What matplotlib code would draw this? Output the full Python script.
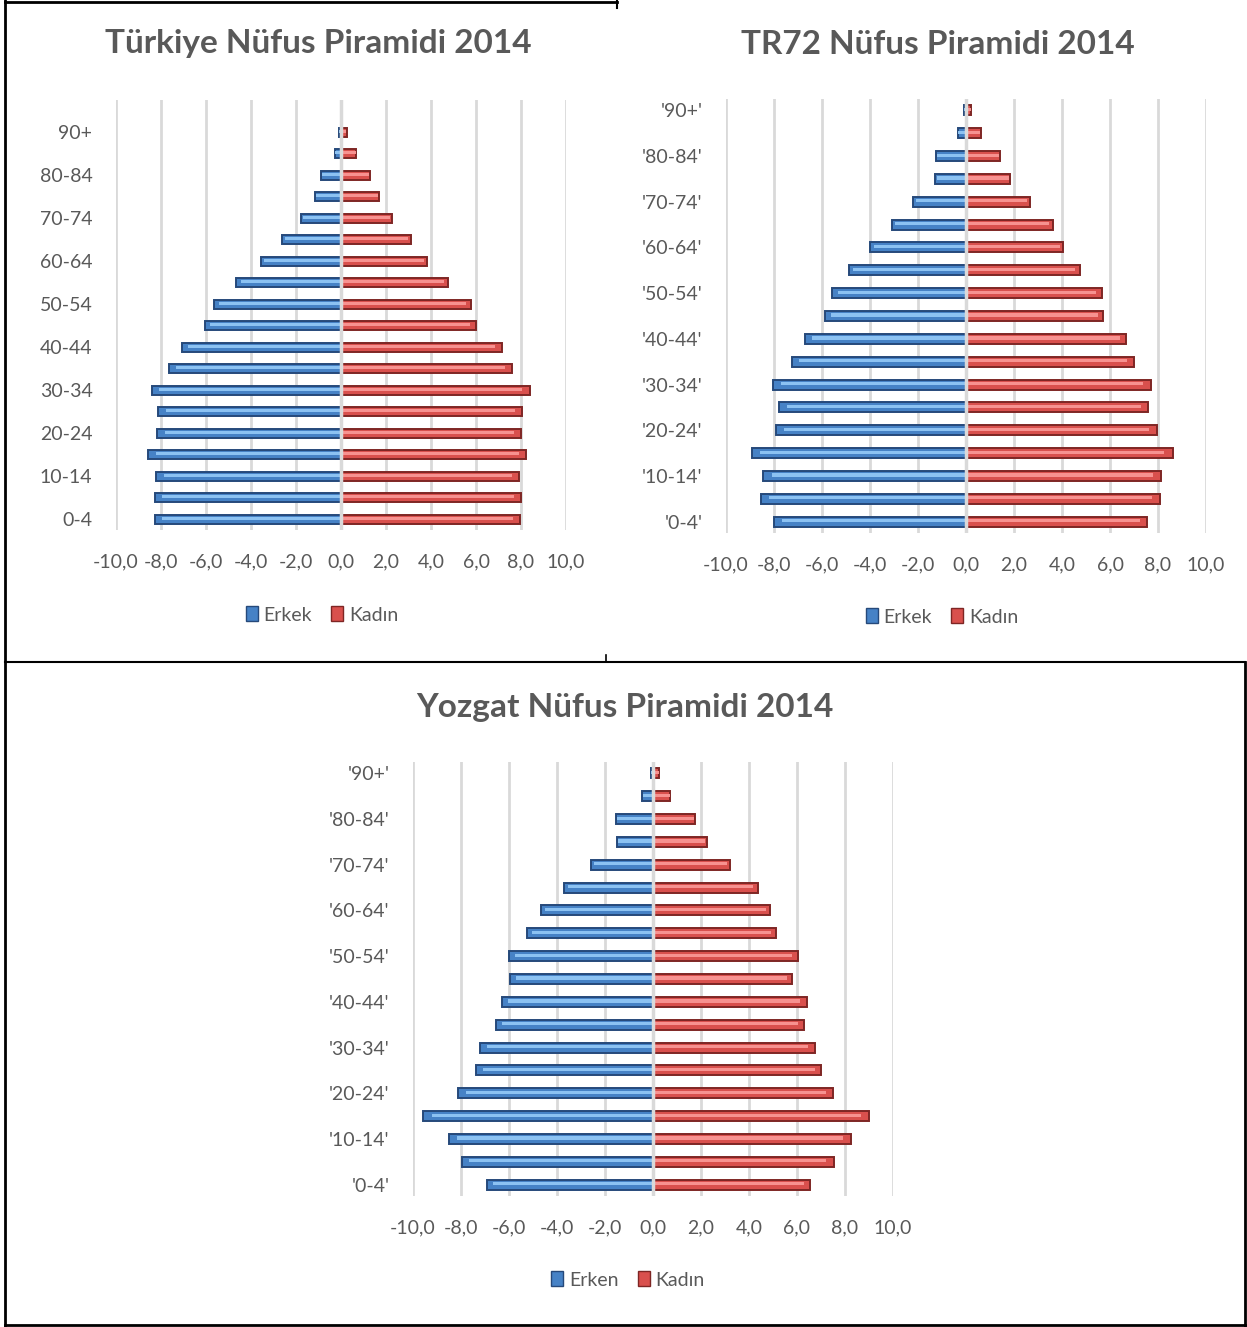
import matplotlib.pyplot as plt
from matplotlib.patches import Patch
from matplotlib.lines import Line2D

plt.rcParams['font.family'] = ['Lato', 'DejaVu Sans']

# age groups, bottom to top
ages = ['0-4', '5-9', '10-14', '15-19', '20-24', '25-29', '30-34', '35-39', '40-44',
        '45-49', '50-54', '55-59', '60-64', '65-69', '70-74', '75-79', '80-84', '85-89', '90+']

# percentages
tr_erkek = [8.27, 8.28, 8.21, 8.56, 8.16, 8.12, 8.41, 7.64, 7.07, 6.06,
            5.66, 4.65, 3.56, 2.61, 1.76, 1.16, 0.87, 0.28, 0.10]
tr_kadin = [7.96, 8.00, 7.91, 8.22, 8.00, 8.04, 8.39, 7.60, 7.14, 5.99,
            5.78, 4.77, 3.82, 3.10, 2.27, 1.69, 1.29, 0.68, 0.25]

tr72_erkek = [8.00, 8.54, 8.44, 8.93, 7.92, 7.79, 8.04, 7.25, 6.69, 5.88,
              5.57, 4.89, 3.99, 3.10, 2.19, 1.28, 1.26, 0.35, 0.08]
tr72_kadin = [7.56, 8.07, 8.11, 8.61, 7.96, 7.60, 7.69, 7.00, 6.67, 5.72,
              5.65, 4.75, 4.06, 3.61, 2.65, 1.85, 1.43, 0.62, 0.20]

yoz_erkek = [6.93, 7.97, 8.51, 9.58, 8.11, 7.36, 7.21, 6.56, 6.29, 5.96,
             6.01, 5.25, 4.68, 3.71, 2.58, 1.51, 1.56, 0.44, 0.10]
yoz_kadin = [6.56, 7.53, 8.26, 9.01, 7.50, 7.01, 6.74, 6.28, 6.40, 5.81,
             6.04, 5.14, 4.89, 4.36, 3.21, 2.24, 1.76, 0.72, 0.24]

xticks = [-10, -8, -6, -4, -2, 0, 2, 4, 6, 8, 10]
xticklabels = ['-10,0', '-8,0', '-6,0', '-4,0', '-2,0', '0,0', '2,0', '4,0', '6,0', '8,0', '10,0']

TXT = '#595959'
GRID = '#d9d9d9'
BLUE, BLUE_E, BLUE_H = '#4682c6', '#26497a', '#8cc2f2'
RED, RED_E, RED_H = '#d9504d', '#7e2624', '#f79290'

W, H = 1247, 1327
fig = plt.figure(figsize=(W / 100, H / 100), dpi=100)


def px_axes(x0, x1, y0, y1):
    # axes placed by pixel box (top-left origin)
    return fig.add_axes([x0 / W, 1 - y1 / H, (x1 - x0) / W, (y1 - y0) / H])


def pyramid(ax, erkek, kadin, quoted, top_extra):
    y = list(range(len(ages)))
    m = [-v for v in erkek]
    h = 0.44
    ax.barh(y, m, height=h, color=BLUE, edgecolor=BLUE_E, linewidth=1.4, zorder=2)
    ax.barh(y, kadin, height=h, color=RED, edgecolor=RED_E, linewidth=1.4, zorder=2)
    # bevel highlight
    yh = [v + 0.04 for v in y]
    ax.barh(yh, [v * 0.96 for v in m], height=0.14, color=BLUE_H, linewidth=0, zorder=3)
    ax.barh(yh, [v * 0.96 for v in kadin], height=0.14, color=RED_H, linewidth=0, zorder=3)
    ax.axvline(0, color=GRID, lw=2.5, zorder=4)
    ax.set_xlim(-10, 10)
    ax.set_ylim(-0.5, len(ages) - 0.5 + top_extra)
    ax.set_xticks(xticks)
    ax.set_xticklabels(xticklabels)
    ax.set_yticks(y[::2])
    labs = ages[::2]
    if quoted:
        labs = ["'" + a + "'" for a in labs]
    ax.set_yticklabels(labs)
    ax.tick_params(length=0, labelsize=14, colors=TXT)
    ax.tick_params(axis='x', pad=17)
    ax.tick_params(axis='y', pad=17)
    ax.grid(axis='x', color=GRID, lw=2, zorder=0)
    ax.set_axisbelow(True)
    for s in ax.spines.values():
        s.set_visible(False)


ax1 = px_axes(116, 566, 100, 530)
pyramid(ax1, tr_erkek, tr_kadin, False, 1.0)
ax2 = px_axes(726, 1206, 99, 533)
pyramid(ax2, tr72_erkek, tr72_kadin, True, 0.0)
ax3 = px_axes(413, 893, 762, 1196)
pyramid(ax3, yoz_erkek, yoz_kadin, True, 0.0)

fig.text(318 / W, 1 - 44 / H, 'Türkiye Nüfus Piramidi 2014', ha='center', va='center',
         fontsize=24, fontweight='bold', color=TXT)
fig.text(938 / W, 1 - 44 / H, 'TR72 Nüfus Piramidi 2014', ha='center', va='center',
         fontsize=24, fontweight='bold', color=TXT)
fig.text(625 / W, 1 - 707 / H, 'Yozgat Nüfus Piramidi 2014', ha='center', va='center',
         fontsize=24, fontweight='bold', color=TXT)


def legend(cx, cy, first):
    hs = [Patch(facecolor=BLUE, edgecolor=BLUE_E), Patch(facecolor=RED, edgecolor=RED_E)]
    fig.legend(hs, [first, 'Kadın'], loc='center', bbox_to_anchor=(cx / W, 1 - cy / H),
               ncol=2, frameon=False, fontsize=14, labelcolor=TXT, handlelength=0.6,
               handleheight=0.8, handletextpad=0.3, columnspacing=1.0)


legend(322, 615, 'Erkek')
legend(942, 617, 'Erkek')
legend(628, 1280, 'Erken')

# page frame lines
frame = [
    ([5, 5], [0, 1327], 2),
    ([5, 617], [2, 2], 2),
    ([617, 617], [0, 8], 1.5),
    ([5, 1245], [662, 662], 1.5),
    ([606, 606], [655, 662], 1.2),
    ([1245, 1245], [662, 1327], 2),
    ([5, 1245], [1325, 1325], 2),
]
for xs, ys, lw in frame:
    fig.add_artist(Line2D([x / W for x in xs], [1 - v / H for v in ys], color='black', lw=lw))

fig.savefig('out.png', dpi=100, facecolor='white')
